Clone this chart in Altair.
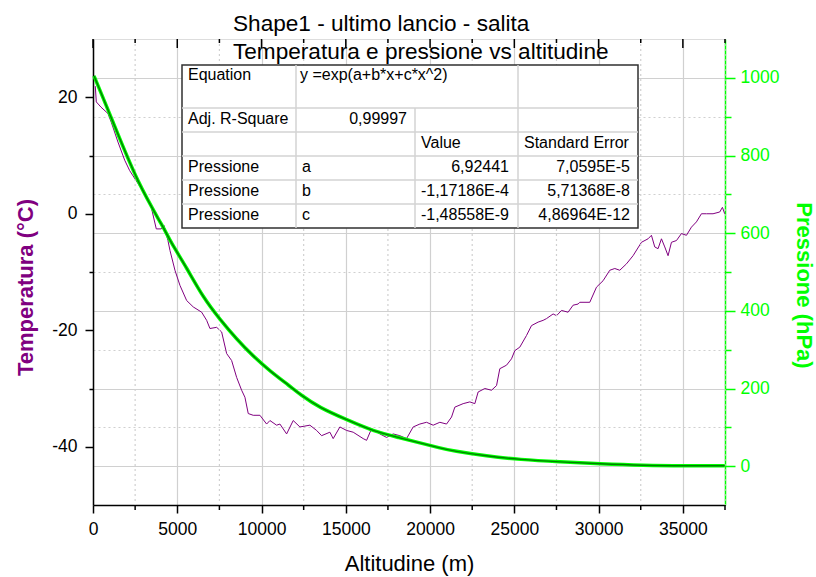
import altair as alt
import pandas as pd

# ---------------- data ----------------
temp_alt = [136, 196, 474, 890, 1085, 1483, 1880, 2177, 2669, 3066, 3458, 3754, 4051, 4211,
            4448, 4567, 4863, 5160, 5557, 5949, 6447, 6744, 6939, 7337, 7633, 7930, 8226,
            8523, 8819, 9015, 9211, 9507, 9905, 10302, 10498, 10895, 11091, 11488, 11880,
            12277, 12870, 13268, 13564, 14056, 14252, 14650, 15047, 15439, 16031, 16233,
            16530, 17022, 17419, 17811, 18208, 18605, 18997, 19394, 19792, 20184, 20581,
            20978, 21274, 21470, 21963, 22360, 22656, 22852, 23250, 23647, 23944, 24139,
            24536, 24833, 25029, 25325, 25722, 26019, 26411, 26708, 26909, 27301, 27503,
            27798, 28190, 28487, 28783, 28884, 29477, 29875, 30265, 30663, 30960, 31256,
            31653, 32045, 32543, 32934, 33136, 33332, 33528, 33730, 33926, 34122, 34323,
            34620, 34916, 35213, 35509, 35805, 36102, 36399, 36790, 37187, 37347, 37484]
temp_val = [21.9, 19.2, 18.3, 17.2, 15.7, 12.3, 9.2, 7.4, 5.2, 3.4, 1.1, -2.6, -2.6, -2.0,
            -4.6, -6.3, -9.7, -12.3, -14.9, -16.0, -16.9, -18.3, -19.7, -19.5, -20.3, -24.0,
            -25.2, -28.1, -30.3, -31.5, -34.3, -34.6, -34.6, -36.1, -35.5, -36.3, -36.1,
            -37.8, -35.5, -36.6, -36.3, -37.2, -38.1, -37.5, -38.6, -36.6, -37.2, -37.5,
            -38.6, -38.9, -36.9, -37.8, -38.4, -37.8, -38.1, -38.6, -36.6, -36.1, -35.8,
            -36.3, -35.8, -36.1, -34.9, -33.2, -32.6, -32.3, -32.6, -30.6, -30.0, -30.3,
            -29.5, -26.6, -26.0, -24.9, -23.5, -22.9, -20.9, -19.2, -18.6, -18.3, -18.0,
            -17.2, -17.5, -16.6, -16.9, -15.7, -15.5, -15.2, -15.2, -12.6, -11.5, -9.7,
            -9.4, -9.7, -8.6, -7.2, -4.9, -4.3, -3.7, -5.7, -6.0, -4.3, -5.7, -7.2, -4.9,
            -4.6, -3.4, -3.7, -2.3, -1.4, 0.0, 0.0, 0.0, 0.3, 1.1, 0.0]

pres_alt = [59, 1085, 2669, 4253, 4567, 5557, 6542, 7532, 8523, 9507, 10498, 11684, 12277,
            13463, 15047, 16624, 18208, 19394, 20581, 21369, 23350, 25325, 27698, 30070,
            32638, 35213, 37484]
pres_val = [1005, 898, 726, 610, 580, 511, 434, 378, 327, 283, 245, 206, 185, 150, 120, 90,
            73, 60, 47, 39, 26, 17, 11, 6, 2, 1, 1]

x_major = list(range(0, 37501, 5000))
x_minor = list(range(2500, 37501, 5000))
temp_ticks = [-40, -30, -20, -10, 0, 10, 20]
pres_ticks = list(range(0, 1001, 100))

title_lines = ["Shape1 - ultimo lancio - salita", "Temperatura e pressione vs altitudine"]

# fit table content
eq_label = "Equation"
eq_text = "y =exp(a+b*x+c*x^2)"
r2_label = "Adj. R-Square"
r2_value = "0,99997"
head_labels = ["Value", "Standard Error"]
param_series = ["Pressione", "Pressione", "Pressione"]
param_names = ["a", "b", "c"]
param_values = ["6,92441", "-1,17186E-4", "-1,48558E-9"]
param_errors = ["7,0595E-5", "5,71368E-8", "4,86964E-12"]

# ---------------- layout / style ----------------
W, H = 632, 466
FONT = "Liberation Sans"
PURPLE = "#800080"
GREEN = "#00FF00"
DKGREEN = "#008000"
GRID = "#D0D0D0"
LBL = 17.5

col_edges = [89, 203, 322, 425, 545]
row_edges = [26, 69, 93, 117, 141, 165, 189]

df_temp = pd.DataFrame({"alt": temp_alt, "temp": temp_val})
df_pres = pd.DataFrame({"alt": pres_alt, "pres": pres_val})
df_major = pd.DataFrame({"alt": x_major})
df_minor = pd.DataFrame({"alt": x_minor})

x_scale = alt.Scale(domain=[0, 37500], nice=False)
x_axis = alt.Axis(
    values=x_major, format="d",
    tickSize=8, tickColor="black", tickWidth=1.5,
    grid=True, gridColor=GRID, gridWidth=1.2,
    domainColor="black", domainWidth=1.5,
    labelFont=FONT, labelFontSize=LBL, labelColor="black", labelPadding=7,
    labelFlush=False, labelOverlap=False,
    title="Altitudine (m)", titleFont=FONT, titleFontSize=22, titleFontWeight="normal",
    titleColor="black", titlePadding=16,
)
# every layer on the shared x scale carries the same axis definition
X = alt.X("alt:Q", scale=x_scale, axis=x_axis)

temp_axis = alt.Axis(
    orient="left", values=temp_ticks, format="d",
    labelExpr="datum.value % 20 === 0 ? replace(datum.label, '\u2212', '-') : ''",
    tickSize={"condition": {"test": "datum.value % 20 === 0", "value": 8}, "value": 4},
    tickColor="black", tickWidth=1.5, grid=False,
    domainColor="black", domainWidth=1.5,
    labelFont=FONT, labelFontSize=LBL, labelColor="black", labelPadding=8,
    labelFlush=False, labelOverlap=False,
    title="Temperatura (°C)", titleFont=FONT, titleFontSize=22, titleFontWeight="bold",
    titleColor=PURPLE, titleAngle=270, titleX=-68, titleY=248,
    titleBaseline="middle", titleAlign="center",
)
pres_axis = alt.Axis(
    orient="right", values=pres_ticks, format="d",
    labelExpr="datum.value % 200 === 0 ? datum.label : ''",
    tickSize={"condition": {"test": "datum.value % 200 === 0", "value": 10}, "value": 6},
    tickColor=GREEN, tickWidth=1.5,
    grid=True, gridColor=GRID, gridWidth=1.2,
    gridDash={"condition": {"test": "datum.value % 200 === 0", "value": []}, "value": [2, 3]},
    domainColor=GREEN, domainWidth=1.5,
    labelFont=FONT, labelFontSize=LBL, labelColor=GREEN, labelPadding=5,
    labelFlush=False, labelOverlap=False,
    title="Pressione (hPa)", titleFont=FONT, titleFontSize=22, titleFontWeight="bold",
    titleColor=GREEN, titleAngle=90, titleX=78, titleY=246,
    titleBaseline="middle", titleAlign="center",
)

pres_scale = alt.Scale(domain=[-100, 1100], nice=False)

# minor vertical grid (dotted) and minor / top ticks
minor_grid = alt.Chart(df_minor).mark_rule(color=GRID, strokeWidth=1.2, strokeDash=[2, 3]).encode(
    x=X, y=alt.value(0), y2=alt.value(H))
bottom_minor = alt.Chart(df_minor).mark_rule(color="black", strokeWidth=1.5).encode(
    x=X, y=alt.value(H), y2=alt.value(H + 5))
top_major = alt.Chart(df_major).mark_rule(color="black", strokeWidth=1.5).encode(
    x=X, y=alt.value(0), y2=alt.value(9))
top_minor = alt.Chart(df_minor).mark_rule(color="black", strokeWidth=1.5).encode(
    x=X, y=alt.value(0), y2=alt.value(4))

temp_line = alt.Chart(df_temp).mark_line(color=PURPLE, strokeWidth=1).encode(
    x=X,
    y=alt.Y("temp:Q", scale=alt.Scale(domain=[-50, 30], nice=False), axis=temp_axis),
)
pres_bright = alt.Chart(df_pres).mark_line(color=GREEN, strokeWidth=3.5, interpolate="basis").encode(
    x=X, y=alt.Y("pres:Q", scale=pres_scale, axis=pres_axis),
)
pres_dark = alt.Chart(df_pres).mark_line(color=DKGREEN, strokeWidth=1.4, interpolate="basis").encode(
    x=X, y=alt.Y("pres:Q", scale=pres_scale, axis=None),
)

# ---------------- fit table ----------------
table_bg = alt.Chart(pd.DataFrame({"k": [0]})).mark_rect(
    fill="white", stroke="#303030", strokeWidth=1.5).encode(
    x=alt.value(col_edges[0]), x2=alt.value(col_edges[-1]),
    y=alt.value(row_edges[0]), y2=alt.value(row_edges[-1]))

segs = []
for r in row_edges[1:-1]:
    segs.append({"x": col_edges[0], "x2": col_edges[-1], "y": r, "y2": r})
segs.append({"x": col_edges[1], "x2": col_edges[1], "y": row_edges[0], "y2": row_edges[-1]})
segs.append({"x": col_edges[2], "x2": col_edges[2], "y": row_edges[1], "y2": row_edges[-1]})
segs.append({"x": col_edges[3], "x2": col_edges[3], "y": row_edges[0], "y2": row_edges[-1]})
table_lines = alt.Chart(pd.DataFrame(segs)).mark_rule(color="#D3D3D3", strokeWidth=1.5).encode(
    x=alt.X("x:Q", scale=None, axis=None), x2="x2:Q",
    y=alt.Y("y:Q", scale=None, axis=None), y2="y2:Q")

def rc(i):
    return (row_edges[i] + row_edges[i + 1]) / 2 - 1.5

left_txt = [
    {"t": eq_label, "x": col_edges[0] + 6, "y": 36},
    {"t": eq_text, "x": col_edges[1] + 4, "y": 36},
    {"t": r2_label, "x": col_edges[0] + 6, "y": rc(1)},
    {"t": head_labels[0], "x": col_edges[2] + 6, "y": rc(2)},
    {"t": head_labels[1], "x": col_edges[3] + 6, "y": rc(2)},
]
right_txt = [{"t": r2_value, "x": col_edges[2] - 8, "y": rc(1)}]
for i in range(3):
    left_txt.append({"t": param_series[i], "x": col_edges[0] + 6, "y": rc(3 + i)})
    left_txt.append({"t": param_names[i], "x": col_edges[1] + 6, "y": rc(3 + i)})
    right_txt.append({"t": param_values[i], "x": col_edges[3] - 9, "y": rc(3 + i)})
    right_txt.append({"t": param_errors[i], "x": col_edges[4] - 8, "y": rc(3 + i)})

def text_layer(rows, align):
    return alt.Chart(pd.DataFrame(rows)).mark_text(
        align=align, baseline="middle", font=FONT, fontSize=16, color="black").encode(
        x=alt.X("x:Q", scale=None, axis=None), y=alt.Y("y:Q", scale=None, axis=None), text="t:N")

chart = alt.layer(
    temp_line, minor_grid, bottom_minor, top_major, top_minor, pres_bright, pres_dark,
    table_bg, table_lines, text_layer(left_txt, "left"), text_layer(right_txt, "right"),
).resolve_scale(y="independent").properties(
    width=W, height=H,
    autosize=alt.AutoSizeParams(type="none"),
    padding={"left": 93, "top": 39, "right": 91, "bottom": 72},
    title=alt.TitleParams(
        text=title_lines, anchor="start", frame="group", dx=140, offset=-48,
        baseline="bottom", font=FONT, fontSize=22.6, fontWeight="normal", color="black",
        lineHeight=28),
).configure_view(stroke="black", strokeWidth=1.5).configure(background="white")

chart.save("out.html", embed_options={"renderer": "svg", "actions": False})
